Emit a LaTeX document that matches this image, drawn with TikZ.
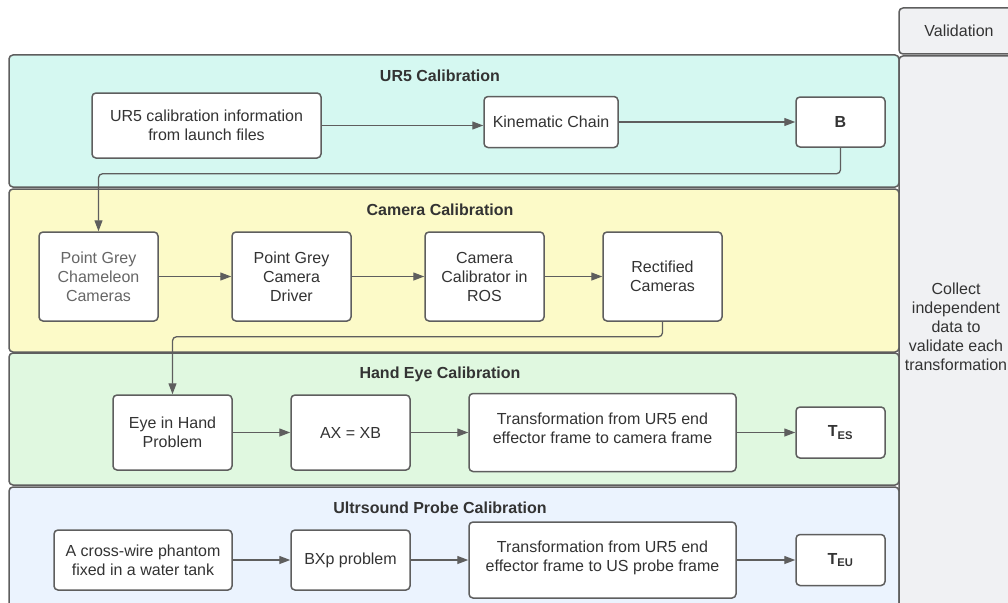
\documentclass[tikz,border=0pt]{standalone}
\usepackage{fontspec}
\setmainfont{Liberation Sans}
\usepackage{xcolor}
\usepackage{tikz}
\usetikzlibrary{arrows.meta,positioning}

\definecolor{edgegrey}{HTML}{5E5E5E}
\definecolor{ink}{HTML}{333333}
\definecolor{softink}{HTML}{666666}
\definecolor{urfill}{HTML}{D5F8F1}
\definecolor{camfill}{HTML}{FCFAC8}
\definecolor{hefill}{HTML}{E0F8E0}
\definecolor{usfill}{HTML}{EBF3FE}
\definecolor{valfill}{HTML}{F0F1F3}

\begin{document}
\begin{tikzpicture}[x=1pt,y=-1pt,on grid,text=ink,
	font=\fontsize{16}{19}\selectfont,
	box/.style={draw=edgegrey,line width=1.5pt,fill=white,rounded corners=4pt,align=center,inner sep=0pt},
	lane/.style={draw=edgegrey,line width=1.5pt,rounded corners=4pt},
	title/.style={font=\fontsize{16}{19}\selectfont\bfseries},
	conn/.style={draw=edgegrey,line width=1.3pt,rounded corners=4pt},
	every edge/.style={conn},
	>={Triangle[length=11pt,width=8pt]}]
	\path[use as bounding box] (0,0) rectangle (1008,602);
	\clip (0,0) rectangle (1008,602);

	% swim lanes
	\draw[lane,fill=urfill]  (9,55)  rectangle (899,187);
	\draw[lane,fill=camfill] (9,189) rectangle (899,352);
	\draw[lane,fill=hefill]  (9,353) rectangle (899,485);
	\draw[lane,fill=usfill]  (9,487) rectangle (899,640);
	\node[title] (t_ur)  at (440,76)  {UR5 Calibration};
	\node[title] (t_cam) at (440,210) {Camera Calibration};
	\node[title] (t_he)  at (440,374) {Hand Eye Calibration};
	\node[title] (t_us)  at (440,508) {Ultrsound Probe Calibration};

	% validation column
	\draw[lane,fill=valfill] (899,8)  rectangle (1030,54);
	\draw[lane,fill=valfill] (899,56) rectangle (1030,640);
	\node (v_0) at (959,31) {Validation};
	\node[align=center] (v_1) at (956,327) {Collect\\independent\\data to\\validate each\\transformation};

	% UR5 calibration
	\node[box,minimum width=229pt,minimum height=65pt] (ur_0) at (206.5,125.5) {UR5 calibration information\\from launch files};
	\node[box,minimum width=134pt,minimum height=51pt] (ur_1) at (551,122) {Kinematic Chain};
	\node[box,minimum width=89pt,minimum height=50pt,font=\fontsize{16}{19}\selectfont\bfseries] (ur_2) [right=289.5pt of ur_1] {B};

	% camera calibration
	\node[box,minimum width=119pt,minimum height=89pt,text=softink] (cam_0) at (98.5,276.5) {Point Grey\\Chameleon\\Cameras};
	\node[box,minimum width=119pt,minimum height=89pt] (cam_1) [right=193pt of cam_0] {Point Grey\\Camera\\Driver};
	\node[box,minimum width=119pt,minimum height=89pt] (cam_2) [right=193pt of cam_1] {Camera\\Calibrator in\\ROS};
	\node[box,minimum width=119pt,minimum height=89pt] (cam_3) [right=178pt of cam_2] {Rectified\\Cameras};

	% hand eye calibration
	\node[box,minimum width=119pt,minimum height=75pt] (he_0) at (172.5,432.5) {Eye in Hand\\Problem};
	\node[box,minimum width=119pt,minimum height=75pt] (he_1) [right=178pt of he_0] {AX = XB};
	\node[box,minimum width=267pt,minimum height=78pt] (he_2) [right=252pt of he_1] {Transformation from UR5 end\\effector frame to camera frame\\[-11pt]\mbox{}};
	\node[box,minimum width=89pt,minimum height=51pt,font=\fontsize{16}{19}\selectfont\bfseries] (he_3) [right=238pt of he_2] {T\textsubscript{ES}};

	% ultrasound probe calibration
	\node[box,minimum width=178pt,minimum height=60pt] (us_0) at (143,560) {A cross-wire phantom\\fixed in a water tank};
	\node[box,minimum width=119pt,minimum height=60pt] (us_1) [right=207.5pt of us_0] {BXp problem};
	\node[box,minimum width=267pt,minimum height=76pt] (us_2) [right=252pt of us_1] {Transformation from UR5 end\\effector frame to US probe frame\\[-11pt]\mbox{}};
	\node[box,minimum width=89pt,minimum height=51pt,font=\fontsize{16}{19}\selectfont\bfseries] (us_3) [right=238pt of us_2] {T\textsubscript{EU}};

	\path[->]
	(ur_0.east) edge (ur_0.east -| ur_1.west)
	(ur_1) edge (ur_2)
	(cam_0) edge (cam_1)
	(cam_1) edge (cam_2)
	(cam_2) edge (cam_3)
	(he_0) edge (he_1)
	(he_1) edge (he_2)
	(he_2) edge (he_3)
	(us_0) edge (us_1)
	(us_1) edge (us_2)
	(us_2) edge (us_3)
	;
	\draw[conn,->] (ur_2.south) -- ++(0,26) -| (cam_0.north);
	\draw[conn,->] (cam_3.south) -- ++(0,15) -| (he_0.north);
\end{tikzpicture}
\end{document}
